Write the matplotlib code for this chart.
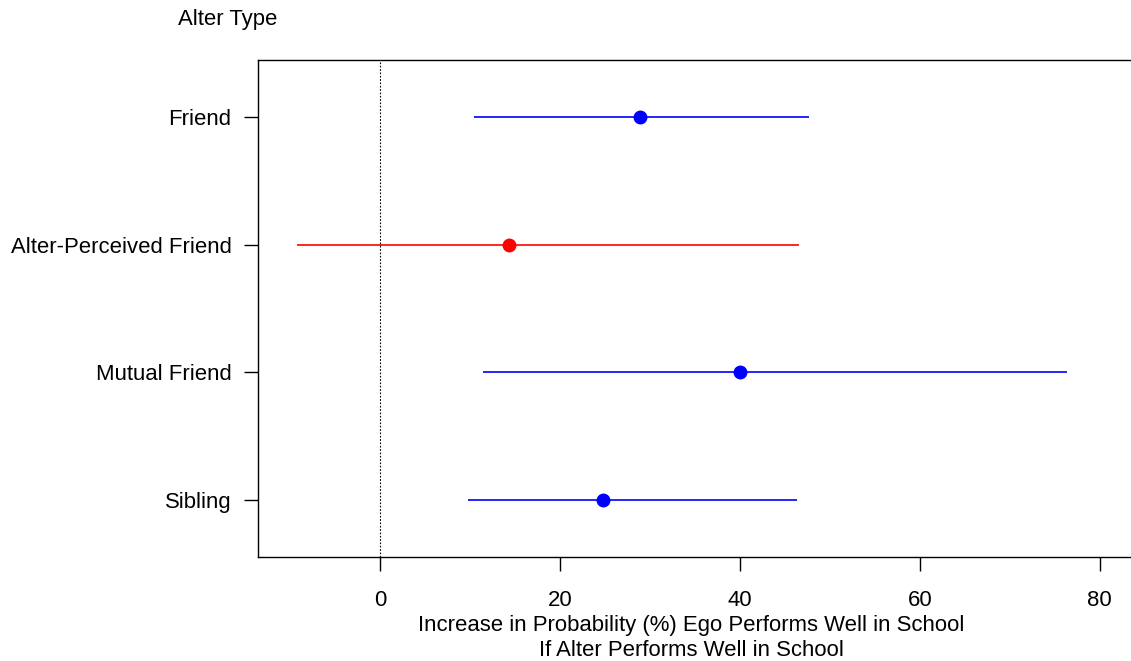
import matplotlib
matplotlib.use("Agg")
import matplotlib.pyplot as plt

# values
alter_types = ["Friend", "Alter-Perceived Friend", "Mutual Friend", "Sibling"]
estimates = [28.9, 14.3, 40.0, 24.8]
ci_low = [10.4, -9.3, 11.4, 9.7]
ci_high = [47.7, 46.6, 76.4, 46.3]
colors = ["#0000FF", "#FF0000", "#0000FF", "#0000FF"]
xticks = [0, 20, 40, 60, 80]

plt.rcParams['font.family'] = ['Liberation Sans', 'DejaVu Sans']
fs = 15.9

W, H = 1131, 661
fig = plt.figure(figsize=(W / 100, H / 100), dpi=100)
ax = fig.add_axes([258 / W, 1 - 557 / H, 884 / W, (557 - 60) / H])

ypos = list(range(len(alter_types), 0, -1))
for y, est, lo, hi, c in zip(ypos, estimates, ci_low, ci_high, colors):
    ax.plot([lo, hi], [y, y], color=c, lw=1.2, solid_capstyle='butt')
    ax.plot(est, y, 'o', color=c, markersize=9)

ax.axvline(0, color='black', lw=0.8, linestyle=(0, (1.5, 1.5)))

ax.set_xlim(-13.6, 84.7)
ax.set_ylim(0.55, 4.45)
ax.set_xticks(xticks)
ax.set_xticklabels([str(t) for t in xticks])
ax.set_yticks(ypos)
ax.set_yticklabels(alter_types)

ax.spines['right'].set_visible(False)
for s in ['left', 'top', 'bottom']:
    ax.spines[s].set_linewidth(1.0)
ax.tick_params(axis='both', direction='out', length=10, width=1.0, labelsize=fs)
ax.tick_params(axis='x', pad=14)
ax.tick_params(axis='y', pad=9)

fig.text(178 / W, 1 - 20 / H, "Alter Type", fontsize=fs, ha='left', va='center')
fig.text(691 / W, 1 - 625 / H, "Increase in Probability (%) Ego Performs Well in School",
         fontsize=fs, ha='center', va='center')
fig.text(691 / W, 1 - 651 / H, "If Alter Performs Well in School",
         fontsize=fs, ha='center', va='center')

fig.savefig("out.png", dpi=100)
